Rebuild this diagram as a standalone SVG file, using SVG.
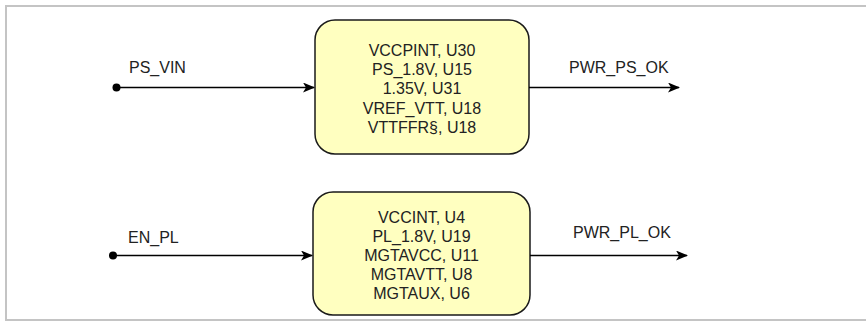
<svg xmlns="http://www.w3.org/2000/svg" width="866" height="322" viewBox="0 0 866 322">
<defs>
<style>
.box{fill:#ffffc0;stroke:#1a1a1a;stroke-width:1.5}
.t{font-family:"Liberation Sans",Arial,sans-serif;font-size:16px;fill:#222}
.c{text-anchor:middle}
.ln{stroke:#000;stroke-width:1.3;fill:none}
</style>
<marker id="arr" viewBox="0 0 12 10" refX="11" refY="5" markerWidth="12" markerHeight="10" markerUnits="userSpaceOnUse" orient="auto">
<path d="M0,0 L12,5 L0,10 L3,5 z" fill="#000"/>
</marker>
</defs>
<rect x="6" y="6" width="870" height="314" fill="#fff" stroke="#c4c4c4" stroke-width="2"/>
<g id="ps-block">
<rect class="box" x="315" y="20" width="214" height="134" rx="20"/>
<text class="t c" x="422" y="56">VCCPINT, U30</text>
<text class="t c" x="422" y="75.2">PS_1.8V, U15</text>
<text class="t c" x="422" y="94.4">1.35V, U31</text>
<text class="t c" x="422" y="113.6">VREF_VTT, U18</text>
<text class="t c" x="422" y="132.8">VTTFFR§, U18</text>
</g>
<g id="pl-block">
<rect class="box" x="313" y="192" width="217" height="123" rx="20"/>
<text class="t c" x="421.5" y="222.5">VCCINT, U4</text>
<text class="t c" x="421.5" y="241.7">PL_1.8V, U19</text>
<text class="t c" x="421.5" y="260.9">MGTAVCC, U11</text>
<text class="t c" x="421.5" y="280.1">MGTAVTT, U8</text>
<text class="t c" x="421.5" y="299.3">MGTAUX, U6</text>
</g>
<g id="connectors">
<circle cx="116.5" cy="87.5" r="4" fill="#000"/>
<path class="ln" d="M116.5,87.5 H314" marker-end="url(#arr)"/>
<path class="ln" d="M529,87.5 H679" marker-end="url(#arr)"/>
<circle cx="113" cy="255.5" r="4" fill="#000"/>
<path class="ln" d="M113,255.5 H312" marker-end="url(#arr)"/>
<path class="ln" d="M530,255.5 H687" marker-end="url(#arr)"/>
</g>
<g id="labels">
<text class="t" x="129" y="72.5">PS_VIN</text>
<text class="t" x="569" y="73">PWR_PS_OK</text>
<text class="t" x="128" y="243">EN_PL</text>
<text class="t" x="573" y="238">PWR_PL_OK</text>
</g>
</svg>
